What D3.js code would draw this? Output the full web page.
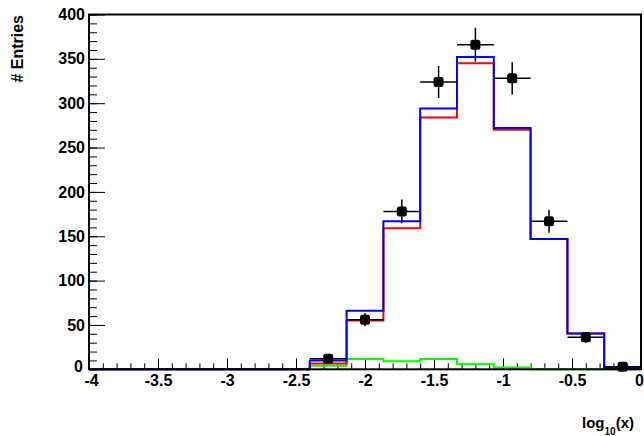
<!DOCTYPE html>
<html><head><meta charset="utf-8">
<script src="https://cdn.jsdelivr.net/npm/d3@7/dist/d3.min.js"></script>
<style>
html,body{margin:0;padding:0;background:#fff;}
svg text{font-family:"Liberation Sans",Arial,sans-serif;font-weight:bold;}
</style></head>
<body>
<svg id="c" width="644" height="436"></svg>
<script>
// 15 bins from -4 to 0 in log10(x)
const binEdges = d3.range(16).map(i => -4 + i * 4 / 15);
const blueVals  = [0,0,0,0,0,0, 10, 66, 167, 294, 352, 272, 147, 40.5, 1.5];
const redVals   = [0,0,0,0,0,0, 6.5, 55, 159, 284, 345, 270, 147, 40.5, 1.5];
const greenVals = [0,0,0,0,0,0, 4, 11.5, 9, 11.5, 5.7, 2, 0, 0, 0];
const dataVals  = [0,0,0,0,0,0, 12, 56, 178, 324, 366, 328, 167, 36, 3];
const xTicks = [-4, -3.5, -3, -2.5, -2, -1.5, -1, -0.5, 0];
const yTicks = [0, 50, 100, 150, 200, 250, 300, 350, 400];

const svg = d3.select("#c");
const L = 89, R = 641, T = 14.5, B = 369.3;
const x = d3.scaleLinear().domain([-4, 0]).range([L, R]);
const y = d3.scaleLinear().domain([0, 400]).range([B, T]);

// minor ticks
const xMinor = d3.range(-4, 0.0001, 0.1).map(v => +v.toFixed(2));
const yMinor = d3.range(0, 401, 10);

svg.append("g").attr("transform", `translate(0,${B})`)
  .call(d3.axisBottom(x).tickValues(xMinor).tickSizeInner(-6).tickSizeOuter(0).tickFormat(""))
  .call(g => g.select(".domain").remove())
  .selectAll("line").attr("stroke", "#000").attr("stroke-width", 1);
svg.append("g").attr("transform", `translate(${L},0)`)
  .call(d3.axisLeft(y).tickValues(yMinor).tickSizeInner(-8).tickSizeOuter(0).tickFormat(""))
  .call(g => g.select(".domain").remove())
  .selectAll("line").attr("stroke", "#000").attr("stroke-width", 1);

const gx = svg.append("g").attr("transform", `translate(0,${B})`)
  .call(d3.axisBottom(x).tickValues(xTicks).tickSizeInner(-11).tickSizeOuter(0).tickPadding(5)
    .tickFormat(d => String(d)));
gx.select(".domain").remove();
gx.selectAll("line").attr("stroke", "#000").attr("stroke-width", 1);
gx.selectAll("text").attr("font-size", 16).attr("fill", "#000")
  .attr("font-family", "'Liberation Sans',Arial,sans-serif").attr("font-weight", "bold")
  .attr("dx", d => d === 0 ? -2 : (d === -4 ? 2 : 0));

const gy = svg.append("g").attr("transform", `translate(${L},0)`)
  .call(d3.axisLeft(y).tickValues(yTicks).tickSizeInner(-16).tickSizeOuter(0).tickPadding(4)
    .tickFormat(d => String(d)));
gy.select(".domain").remove();
gy.selectAll("line").attr("stroke", "#000").attr("stroke-width", 1);
gy.selectAll("text").attr("font-size", 16).attr("fill", "#000")
  .attr("font-family", "'Liberation Sans',Arial,sans-serif").attr("font-weight", "bold")
  .attr("transform", d => d === 0 ? "translate(-2,-3)" : null);

// histograms
function stepPts(vals) {
  const pts = vals.map((v, i) => [binEdges[i], v]);
  pts.push([binEdges[binEdges.length - 1], vals[vals.length - 1]]);
  return pts;
}
const line = d3.line().x(d => x(d[0])).y(d => y(d[1])).curve(d3.curveStepAfter);
[[greenVals, "#00ff00"], [redVals, "#ff0000"], [blueVals, "#0000ff"]].forEach(([vals, col]) => {
  svg.append("path").attr("d", line(stepPts(vals)))
    .attr("fill", "none").attr("stroke", col).attr("stroke-width", 2);
});

// data points with errors
const pts = dataVals.map((v, i) => ({x0: binEdges[i], x1: binEdges[i + 1], v}))
  .filter(d => d.v > 0);
const gd = svg.append("g");
pts.forEach(d => {
  const cx = x((d.x0 + d.x1) / 2), e = Math.sqrt(d.v);
  gd.append("line").attr("x1", x(d.x0)).attr("x2", x(d.x1)).attr("y1", y(d.v)).attr("y2", y(d.v))
    .attr("stroke", "#000").attr("stroke-width", 1.5);
  gd.append("line").attr("x1", cx).attr("x2", cx).attr("y1", y(d.v - e)).attr("y2", y(d.v + e))
    .attr("stroke", "#000").attr("stroke-width", 1.5);
  gd.append("rect").attr("x", cx - 5).attr("y", y(d.v) - 5).attr("width", 10).attr("height", 10)
    .attr("rx", 2.5).attr("fill", "#000");
});

// frame
svg.append("rect").attr("x", L).attr("y", T).attr("width", R - L).attr("height", B - T)
  .attr("fill", "none").attr("stroke", "#000").attr("stroke-width", 2);

// titles
svg.append("text").attr("transform", "translate(23,15) rotate(-90)")
  .attr("text-anchor", "end").attr("font-size", 16).text("# Entries");
const xt = svg.append("text").attr("x", 634).attr("y", 428).attr("text-anchor", "end").attr("font-size", 15);
xt.append("tspan").text("log");
xt.append("tspan").attr("font-size", 10).attr("dy", 7).text("10");
xt.append("tspan").attr("dy", -7).text("(x)");
</script>
</body></html>
